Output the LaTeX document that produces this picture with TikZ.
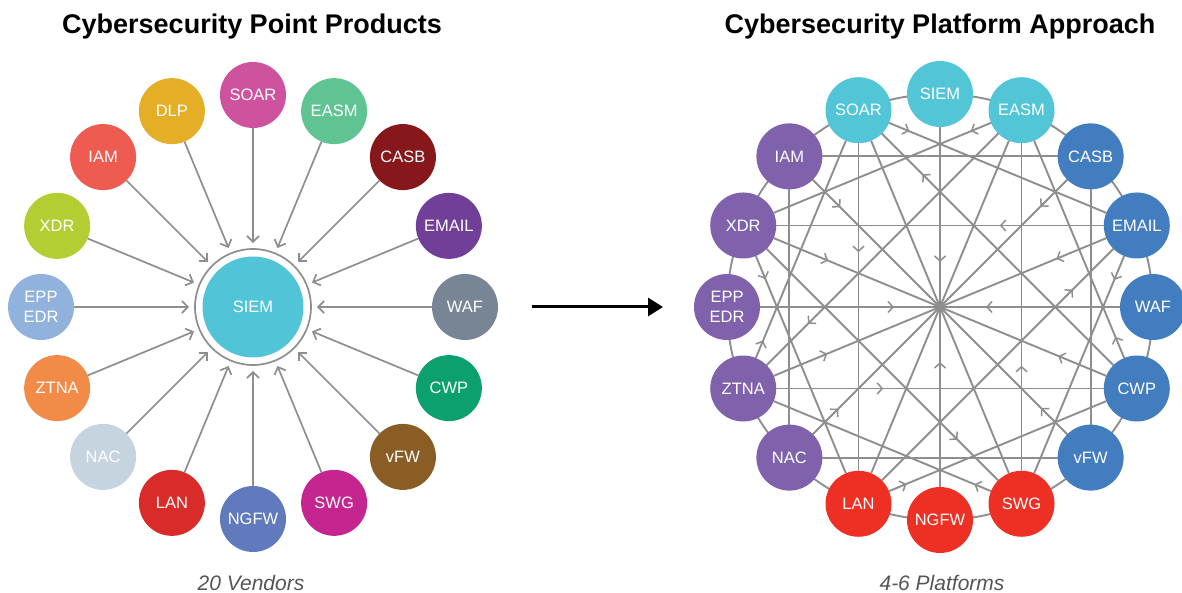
\documentclass[tikz,border=0pt]{standalone}
\usepackage{fontspec}
\setmainfont{Liberation Sans}
\usetikzlibrary{arrows.meta,calc,decorations.markings}

% Cores dos produtos isolados
\definecolor{cSIEM}{HTML}{52C4D7}
\definecolor{cSOAR}{HTML}{CF529E}
\definecolor{cEASM}{HTML}{5FC392}
\definecolor{cCASB}{HTML}{86171A}
\definecolor{cEMAIL}{HTML}{713F98}
\definecolor{cWAF}{HTML}{788595}
\definecolor{cCWP}{HTML}{0CA06F}
\definecolor{cVFW}{HTML}{8A5D25}
\definecolor{cSWG}{HTML}{C5258E}
\definecolor{cNGFW}{HTML}{6179BD}
\definecolor{cLAN}{HTML}{D92B2A}
\definecolor{cNAC}{HTML}{C6D4E0}
\definecolor{cZTNA}{HTML}{F28B48}
\definecolor{cEPP}{HTML}{90B2DC}
\definecolor{cXDR}{HTML}{B3CE33}
\definecolor{cIAM}{HTML}{EE5B51}
\definecolor{cDLP}{HTML}{E4AF27}
% Cores da plataforma
\definecolor{cian}{HTML}{52C5D6}
\definecolor{azul}{HTML}{427DC0}
\definecolor{verm}{HTML}{EE3024}
\definecolor{roxo}{HTML}{7F62AB}
\definecolor{cinza}{HTML}{8E8E8E}
\definecolor{legenda}{HTML}{555555}

\tikzset{
  prod/.style={circle, fill=#1, minimum size=66pt, inner sep=0pt, outer sep=0pt,
    text=white, align=center, font=\fontsize{16.5}{20}\selectfont},
  linha/.style={draw=cinza, line width=1.9pt},
  seta/.style={postaction={decorate, decoration={markings,
    mark=at position #1 with {\arrow{Straight Barb[length=5pt,width=11pt,line width=1.5pt]}}}}},
  titulo/.style={font=\fontsize{27}{30}\selectfont\bfseries},
  rodape/.style={font=\fontsize{21}{24}\selectfont\itshape, text=legenda}
}

\begin{document}
\begin{tikzpicture}[x=1pt, y=1pt]
  \useasboundingbox (0,0) rectangle (1182,593);

  % Títulos e legendas
  \node[titulo] (titA) at (252,566) {Cybersecurity Point Products};
  \node[titulo] (titB) at (940,566) {Cybersecurity Platform Approach};
  \node[rodape] (legA) at (251,10) {20 Vendors};
  \node[rodape] (legB) at (942,10) {4-6 Platforms};

  % Produtos isolados em volta do SIEM
  \coordinate (ctrA) at (253,286);
  \node[prod=cSIEM, minimum size=101pt] (siemA) at (ctrA) {SIEM};
  \node[circle, draw=cinza, line width=1.7pt, minimum size=116pt] (anel) at (ctrA) {};
  \foreach \nome/\cor [count=\i from 0] in {SOAR/cSOAR, EASM/cEASM, CASB/cCASB,
      EMAIL/cEMAIL, WAF/cWAF, CWP/cCWP, vFW/cVFW, SWG/cSWG, NGFW/cNGFW, LAN/cLAN,
      NAC/cNAC, ZTNA/cZTNA, {EPP\\EDR}/cEPP, XDR/cXDR, IAM/cIAM, DLP/cDLP} {
    \node[prod=\cor] (a\i) at ($(ctrA)+(90-22.5*\i:212)$) {\nome};
    \draw[draw=cinza, line width=1.7pt, shorten >=5pt,
      -{Straight Barb[length=6pt,width=12pt]}] (a\i) -- (anel);
  }

  % Seta central
  \coordinate (ini) at (532,286);
  \coordinate (fim) at (663,286);
  \draw[line width=3pt, -{Triangle[length=15pt,width=18pt]}] (ini) -- (fim);

  % Plataforma: anel e nós
  \coordinate (ctrB) at (940,286);
  \draw[cinza, line width=1.9pt] (ctrB) circle (213);
  \foreach \nome/\cor [count=\i from 0] in {SIEM/cian, EASM/cian, CASB/azul,
      EMAIL/azul, WAF/azul, CWP/azul, vFW/azul, SWG/verm, NGFW/verm, LAN/verm,
      NAC/roxo, ZTNA/roxo, {EPP\\EDR}/roxo, XDR/roxo, IAM/roxo, SOAR/cian} {
    \node[prod=\cor] (b\i) at ($(ctrB)+(90-22.5*\i:213)$) {\nome};
  }

  % Raios até o centro
  \foreach \k/\d in {0/45, 2/142, 3/126, 4/46, 5/128, 6/143, 8/55, 10/144,
      11/122, 12/46, 13/121, 14/141}
    \draw[linha, seta=-\d pt] (b\k) -- (ctrB);
  \foreach \k in {1,7,9,15}
    \draw[linha] (b\k) -- (ctrB);

  % Cordas sem seta
  \foreach \p/\q in {2/6, 6/10, 10/14, 14/2}
    \draw[linha] (b\p) -- (b\q);

  % Cordas com seta (origem/destino/posição)
  \foreach \p/\q/\s in {1/13/22, 13/9/25, 9/5/19, 5/1/23, 15/3/22, 3/7/26,
      7/11/18, 11/15/19, 3/13/104, 15/9/109, 11/5/107, 7/1/105, 5/15/270,
      9/3/270, 1/11/269, 13/7/270}
    \draw[linha, seta=\s pt] (b\p) -- (b\q);
\end{tikzpicture}
\end{document}
